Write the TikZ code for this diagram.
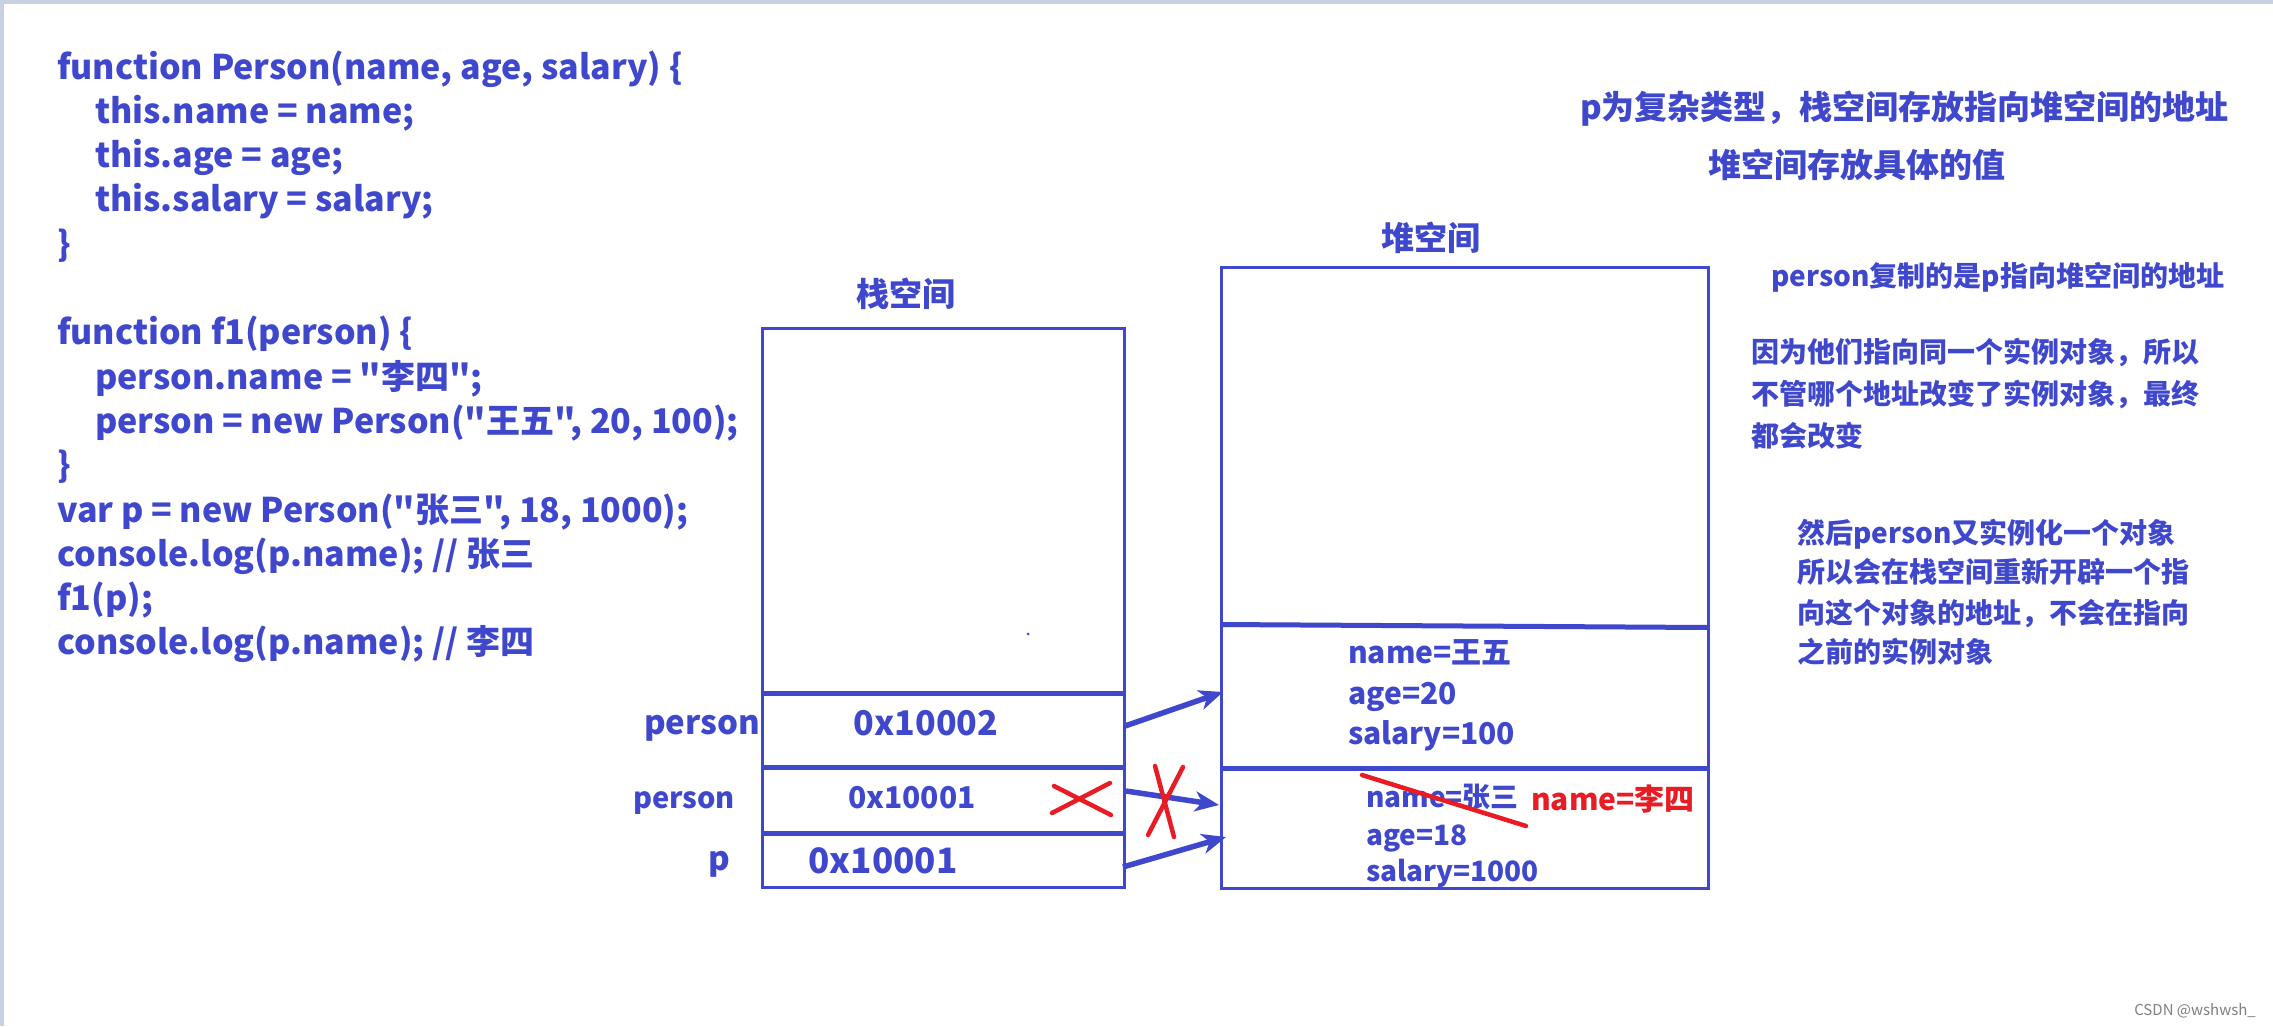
\documentclass[tikz,border=0pt]{standalone}
\usepackage{fontspec}
\setmainfont{Noto Sans CJK SC}[Ligatures=TeXOff]
\usetikzlibrary{arrows.meta}
\definecolor{refblue}{RGB}{63,72,204}
\definecolor{refred}{RGB}{232,28,36}
\definecolor{framec}{RGB}{200,210,228}
\begin{document}
\begin{tikzpicture}[x=1pt,y=-1pt,
  txt/.style={anchor=base west,inner sep=0pt,text=refblue,font=\bfseries\fontsize{#1}{#1}\selectfont},
  txt/.default=34,
  ctxt/.style={anchor=base,inner sep=0pt,text=refblue,font=\bfseries\fontsize{#1}{#1}\selectfont},
  boxline/.style={draw=refblue,line width=3pt},
  divline/.style={draw=refblue,line width=5pt},
  ptr/.style={draw=refblue,line width=5.5pt,-{Stealth[length=24pt,width=20pt,inset=7pt]}},
  cross/.style={draw=refred,line width=4.5pt,line cap=round}]
\useasboundingbox (0,0) rectangle (2273,1026);
\fill[white] (0,0) rectangle (2273,1026);
\fill[framec] (0,0) rectangle (2273,4);
\fill[framec] (0,0) rectangle (4,1026);
% code
\node[txt] (c1) at (57,79) {function Person(name, age, salary) \{};
\node[txt] (c2) at (95,123.3) {this.name = name;};
\node[txt] (c3) at (95,167.6) {this.age = age;};
\node[txt] (c4) at (95,211.9) {this.salary = salary;};
\node[txt] (c5) at (57,256.2) {\}};
\node[txt] (c6) at (57,344.8) {function f1(person) \{};
\node[txt] (c7) at (95,389.1) {person.name = "李四";};
\node[txt] (c8) at (95,433.4) {person = new Person("王五", 20, 100);};
\node[txt] (c9) at (57,477.7) {\}};
\node[txt] (c10) at (57,522) {var p = new Person("张三", 18, 1000);};
\node[txt] (c11) at (57,566.3) {console.log(p.name); // 张三};
\node[txt] (c12) at (57,610.6) {f1(p);};
\node[txt] (c13) at (57,654.9) {console.log(p.name); // 李四};
% titles
\node[ctxt=33] (st) at (906,306) {栈空间};
\node[ctxt=33] (ht) at (1431,250) {堆空间};
% stack box
\draw[boxline] (762.5,328) rectangle (1124.5,887);
\draw[divline] (762.5,693) -- (1124.5,693);
\draw[divline] (762.5,767) -- (1124.5,767);
\draw[divline] (762.5,833) -- (1124.5,833);
\fill[refblue] (1028,634) circle (1.5);
% heap box
\draw[boxline] (1221,267) rectangle (1708,888);
\draw[divline] (1221,624.5) -- (1708,627.5);
\draw[divline] (1221,768) -- (1710,768);
% stack labels and values
\node[ctxt=33] (l1) at (702,734) {person};
\node[ctxt=29] (l2) at (684,808) {person};
\node[ctxt=33] (l3) at (719,870) {p};
\node[ctxt=34] (v1) at (926,735) {0x10002};
\node[ctxt=30] (v2) at (912,808) {0x10001};
\node[ctxt=35] (v3) at (883,873) {0x10001};
% heap values
\node[txt=30] (h1) at (1348,663) {name=王五};
\node[txt=30] (h2) at (1348,704) {age=20};
\node[txt=30] (h3) at (1348,744) {salary=100};
\node[txt=28] (h4) at (1366,807) {name=张三};
\node[txt=28] (h5) at (1366,845) {age=18};
\node[txt=28] (h6) at (1366,881) {salary=1000};
\node[txt=30,text=refred] (h7) at (1531,810) {name=李四};
% coordinates for arrows
\coordinate (a1s) at (1125,726);
\coordinate (a1e) at (1223,692);
\coordinate (a2s) at (1126,791);
\coordinate (a2e) at (1219,805);
\coordinate (a3s) at (1123,867);
\coordinate (a3e) at (1226,837);
\draw[ptr] (a1s) -- (a1e);
\draw[ptr] (a2s) -- (a2e);
\draw[ptr] (a3s) -- (a3e);
% red marks
\draw[cross] (1054,786) -- (1111,815);
\draw[cross] (1052,813) -- (1110,783);
\draw[cross] (1155,766) -- (1174,837);
\draw[cross] (1183,767) -- (1148,835);
\draw[cross] (1362,775) -- (1526,826);
% right texts
\node[txt=33] (r1) at (1580,119) {p为复杂类型，栈空间存放指向堆空间的地址};
\node[txt=33] (r2) at (1708,177) {堆空间存放具体的值};
\node[txt=28] (r3) at (1771,286) {person复制的是p指向堆空间的地址};
\node[txt=28] (r4) at (1751,362) {因为他们指向同一个实例对象，所以};
\node[txt=28] (r5) at (1751,404) {不管哪个地址改变了实例对象，最终};
\node[txt=28] (r6) at (1751,446) {都会改变};
\node[txt=28] (r7) at (1797,543) {然后person又实例化一个对象};
\node[txt=28] (r8) at (1797,582) {所以会在栈空间重新开辟一个指};
\node[txt=28] (r9) at (1797,623) {向这个对象的地址，不会在指向};
\node[txt=28] (r10) at (1797,662) {之前的实例对象};
\node[anchor=base east,inner sep=0pt,text=gray,font=\fontsize{15}{15}\selectfont] (wm) at (2256,1015) {CSDN @wshwsh\_};
\end{tikzpicture}
\end{document}
